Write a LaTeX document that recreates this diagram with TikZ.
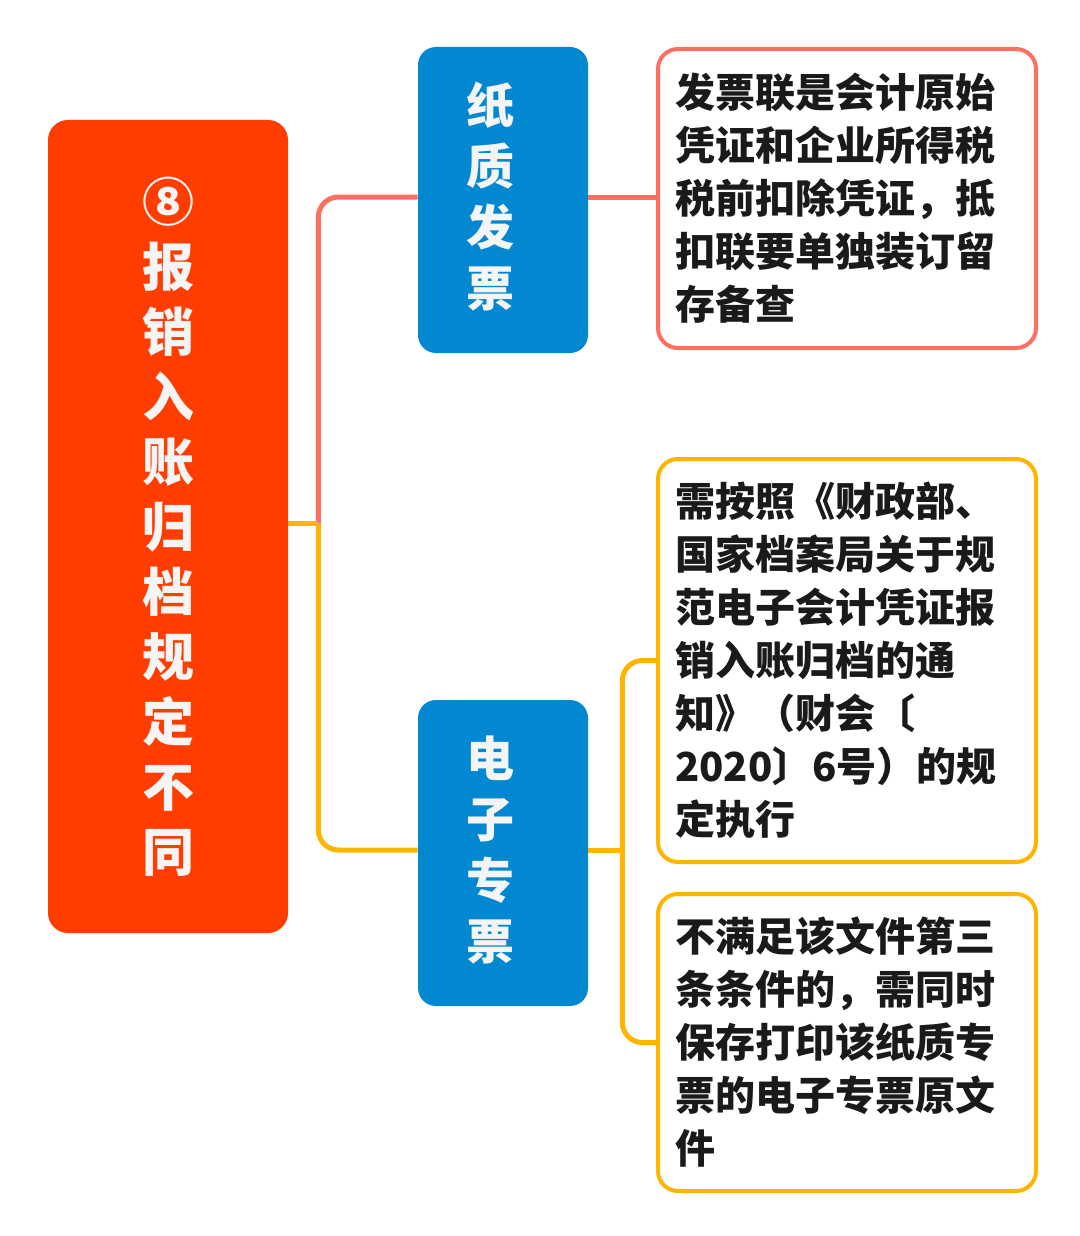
\documentclass[tikz,border=0pt]{standalone}
\usepackage{fontspec}
\newfontfamily\cjk{Noto Sans CJK SC}
\definecolor{rootred}{RGB}{255,61,0}
\definecolor{boxblue}{RGB}{2,136,209}
\definecolor{salmonline}{RGB}{255,111,97}
\definecolor{goldline}{RGB}{255,180,0}
\definecolor{inkblack}{RGB}{26,26,26}
\usetikzlibrary{positioning}

\begin{document}
\begin{tikzpicture}[x=0.5pt, y=-0.5pt,
    rootbox/.style={fill=rootred, rounded corners=10pt, inner sep=0pt,
      minimum width=120pt, minimum height=406.5pt, text=white!96!black,
      align=center, font=\cjk\bfseries\fontsize{26}{32.5}\selectfont},
    kindbox/.style={fill=boxblue, rounded corners=9pt, inner sep=0pt,
      minimum width=85pt, minimum height=153pt},
    kindtext/.style={inner sep=0pt, text=white!96!black, align=center,
      font=\cjk\bfseries\fontsize{24}{30.5}\selectfont},
    notebox/.style={draw=#1, fill=white, line width=2pt, rounded corners=10pt,
      minimum width=189pt, inner xsep=8.5pt, inner ysep=0pt, text width=172pt,
      align=left, text=inkblack, font=\cjk\bfseries\fontsize{20}{26.5}\selectfont},
    link/.style={draw=#1, line width=2.5pt, rounded corners=10pt}]
  \useasboundingbox (0,0) rectangle (1080,1236);

  % left: title
  \node[rootbox] (root) at (168,526.5)
    {⑧\\报\\销\\入\\账\\归\\档\\规\\定\\不\\同};

  % middle: the two kinds of invoice
  \node[kindbox] (paper) at (503,200) {};
  \node[kindtext] (papertext) at ([xshift=-6.5pt, yshift=1.5pt]paper) {纸\\质\\发\\票};
  \node[kindbox] (etick) at (503,853) {};
  \node[kindtext] (eticktext) at ([xshift=-6.5pt, yshift=1.5pt]etick) {电\\子\\专\\票};

  % right: notes
  \node[notebox=salmonline, minimum height=149.5pt] (keep) at (847,198.5)
    {发票联是会计原始\\凭证和企业所得税\\税前扣除凭证，抵\\扣联要单独装订留\\存备查};
  \node[notebox=goldline, minimum height=201.5pt] (rule) at (847,660.5)
    {需按照《财政部、\\国家档案局关于规\\范电子会计凭证报\\销入账归档的通\\知》（财会〔\\2020〕6号）的规\\定执行};
  \node[notebox=goldline, minimum height=148.5pt] (cond) at (847,1042.5)
    {不满足该文件第三\\条条件的，需同时\\保存打印该纸质专\\票的电子专票原文\\件};

  % connectors
  \coordinate (jroot) at ([xshift=15pt, yshift=1.5pt]root.east);
  \coordinate (jetick) at ([xshift=17pt, yshift=1.5pt]etick.east);
  \draw[link=salmonline] (jroot) |- ([yshift=1.5pt]paper.west);
  \draw[link=goldline] (jroot) |- ([yshift=1.5pt]etick.west);
  \draw[link=goldline] (jroot -| root.east) -- (jroot);
  \draw[link=salmonline] ([yshift=1.5pt]paper.east) -- ([yshift=1.5pt]paper.east -| keep.west);
  \draw[link=goldline] (jetick -| etick.east) -- (jetick);
  \foreach \n in {rule, cond}
    \draw[link=goldline] (jetick) |- (\n.west);
\end{tikzpicture}
\end{document}
